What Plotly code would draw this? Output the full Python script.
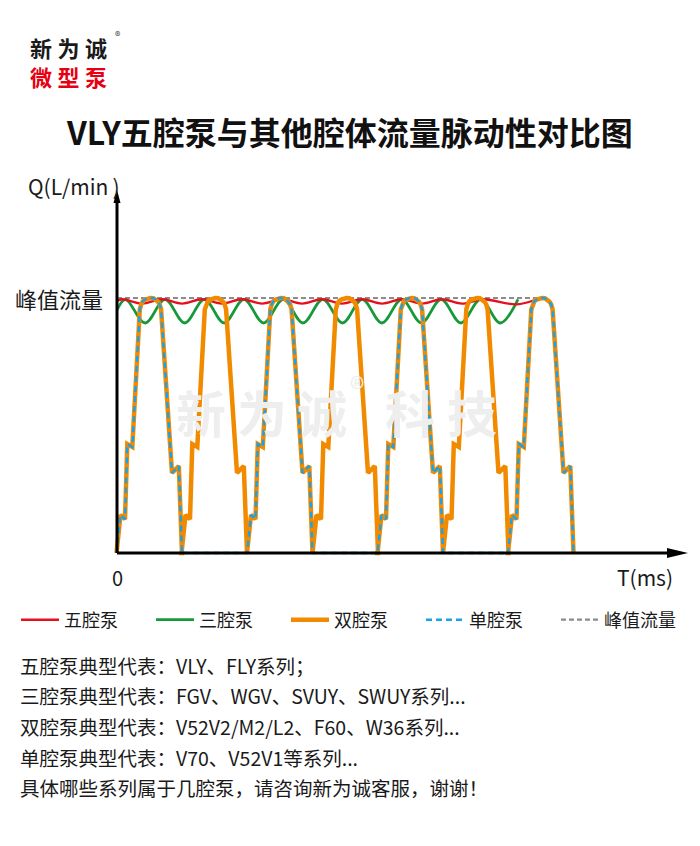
import plotly.graph_objects as go

# ---------------- data (time axis in arbitrary units, flow as fraction of peak) -------------
# one pulse of a single-cavity pump (relative time, relative flow)
pulse_t = [0, 4, 8.5, 10.8, 15.8, 23.3, 24.8, 26.5, 28.7, 31.2, 34, 36.8, 39.3, 41.4, 43.1, 44.6, 55.5, 62.3, 65.5]
pulse_q = [0, 0.149, 0.133, 0.427, 0.416, 0.955, 0.976, 0.988, 0.994, 0.999, 1.0, 0.999, 0.994, 0.986, 0.976, 0.955, 0.314, 0.341, 0]

# start of each pulse of the double-cavity pump
double_starts = [-0.5, 64.5, 130, 195.5, 260.5, 326, 391]
# the single-cavity pump fires on every other one of those
single_active = [True, False, True, False, True, False, True]

# three-cavity pump: extremes
tri_t = [0, 8.5, 28.2, 48, 67.7, 87.4, 107.1, 126.9, 146.6, 166.3, 186, 205.8, 225.5, 245.2, 264.9,
         284.7, 304.4, 324.1, 343.8, 363.6, 383.3, 401]
tri_q = [0.953, 0.995, 0.902, 0.995, 0.902, 0.995, 0.902, 0.995, 0.902, 0.995, 0.902, 0.995, 0.902,
         0.995, 0.902, 0.995, 0.902, 0.995, 0.902, 0.995, 0.902, 0.995]

# five-cavity pump: extremes
five_t = [0, 5, 25, 45, 65, 85, 105, 125, 145, 165, 185, 205, 225, 245, 265, 285, 305, 325, 345, 366, 400, 423]
five_q = [0.988, 0.995, 0.978, 0.995, 0.978, 0.995, 0.978, 0.995, 0.978, 0.995, 0.978, 0.995, 0.978,
          0.995, 0.978, 0.995, 0.978, 0.995, 0.978, 0.995, 0.975, 1.0]

peak_t = [0, 423]
peak_q = [1.0, 1.0]

series_names = ["五腔泵", "三腔泵", "双腔泵", "单腔泵", "峰值流量"]
notes = [
    "五腔泵典型代表：VLY、FLY系列；",
    "三腔泵典型代表：FGV、WGV、SVUY、SWUY系列...",
    "双腔泵典型代表：V52V2/M2/L2、F60、W36系列...",
    "单腔泵典型代表：V70、V52V1等系列...",
    "具体哪些系列属于几腔泵，请咨询新为诚客服，谢谢！",
]

# ---------------- build pulse trains ----------------
dbl_t, dbl_q, sgl_t, sgl_q = [], [], [], []
for s, act in zip(double_starts, single_active):
    for t, q in zip(pulse_t, pulse_q):
        dbl_t.append(s + t)
        dbl_q.append(q)
        sgl_t.append(s + t)
        sgl_q.append(q if act else 0)

FONT = "Noto Sans CJK SC, Noto Sans, sans-serif"
RED, GREEN, ORANGE, BLUE, GRAY = "#e60f1e", "#16993a", "#f28a00", "#18a2e8", "#8c8c8c"

fig = go.Figure()
fig.add_trace(go.Scatter(x=peak_t, y=peak_q, mode="lines", name=series_names[4],
                         line=dict(color=GRAY, width=2.2, dash="5px,3px"), legendrank=5))
fig.add_trace(go.Scatter(x=tri_t, y=tri_q, mode="lines", name=series_names[1],
                         line=dict(color=GREEN, width=2.8, shape="spline", smoothing=1.0), legendrank=2))
fig.add_trace(go.Scatter(x=five_t, y=five_q, mode="lines", name=series_names[0],
                         line=dict(color=RED, width=2.4, shape="spline", smoothing=1.0), legendrank=1))
fig.add_trace(go.Scatter(x=dbl_t, y=dbl_q, mode="lines", name=series_names[2],
                         line=dict(color=ORANGE, width=4.5), legendrank=3))
fig.add_trace(go.Scatter(x=sgl_t, y=sgl_q, mode="lines", name=series_names[3],
                         line=dict(color=BLUE, width=2.4, dash="6px,4px"), legendrank=4))

# layout geometry: plot area spans pixels x 107..692, y 190..561
L, R, T, B = 107, 8, 190, 285
PW, PH = 700 - L - R, 846 - T - B


def X(px):  # data x for a pixel column
    return px - 117


def Y(py):  # data y for a pixel row
    return (553 - py) / 255


def PX(px):  # paper x
    return (px - L) / PW


def PY(py):  # paper y
    return (846 - B - py) / PH


ann = []


def text(px, py, s, size, color="#1a1a1a", bold=False, xanchor="center", yanchor="middle"):
    ann.append(dict(x=PX(px), y=PY(py), xref="paper", yref="paper", text=("<b>%s</b>" % s) if bold else s,
                    showarrow=False, xanchor=xanchor, yanchor=yanchor,
                    font=dict(family=FONT, size=size, color=color)))


# watermark
for px, s in [(201, "新"), (262, "为"), (322, "诚"), (410, "科"), (472, "技")]:
    text(px, 411, s, 50, color="#eeeeee", bold=True)
text(357, 387, "®", 30, color="#eeeeee")

# logo
text(68, 47, "新\u2005为\u2005诚", 22, color="#1a1a1a", bold=True)
text(68, 76, "微\u2005型\u2005泵", 22, color="#e60012", bold=True)
text(117, 35, "®", 11, color="#333333")

# title
text(349, 131, "VLY五腔泵与其他腔体流量脉动性对比图", 32, color="#111111", bold=True)

# axis labels
text(26, 186, "Q(L/min\u2009)", 21, xanchor="left")
text(105, 298, "峰值流量", 22, xanchor="right")
text(117, 577, "0", 20)
text(645, 577, "T(ms)", 21)

for i, s in enumerate(notes):
    text(18, [665, 695, 726, 757, 787][i], s, 19.5, xanchor="left")

shapes = [
    dict(type="line", xref="x", yref="y", x0=X(117), x1=X(672), y0=0, y1=0,
         line=dict(color="black", width=3), layer="above"),
    dict(type="line", xref="x", yref="y", x0=0, x1=0, y0=0, y1=Y(200),
         line=dict(color="black", width=3), layer="above"),
    dict(type="path", xref="x", yref="y", fillcolor="black", line=dict(width=0), layer="above",
         path="M %f %f L %f %f L %f %f Z" % (X(667), Y(548), X(688), Y(553), X(667), Y(558))),
    dict(type="path", xref="x", yref="y", fillcolor="black", line=dict(width=0), layer="above",
         path="M %f %f L %f %f L %f %f Z" % (X(113.5), Y(203), X(117), Y(190), X(120.5), Y(203))),
]

fig.update_layout(
    width=700, height=846,
    margin=dict(l=L, r=R, t=T, b=B, autoexpand=False),
    paper_bgcolor="white", plot_bgcolor="white",
    xaxis=dict(range=[X(L), X(700 - R)], visible=False, fixedrange=True),
    yaxis=dict(range=[Y(846 - B), Y(T)], visible=False, fixedrange=True),
    showlegend=True,
    legend=dict(orientation="h", x=PX(16), xanchor="left", y=PY(620), yanchor="middle",
                font=dict(family=FONT, size=18, color="#1a1a1a"), itemwidth=38,
                entrywidth=82, entrywidthmode="pixels", bgcolor="rgba(0,0,0,0)", traceorder="normal"),
    annotations=ann,
    shapes=shapes,
)

fig.write_html("out.html", config={"displayModeBar": False},
               post_script="document.body.style.margin='0px';document.body.style.overflow='hidden';")
